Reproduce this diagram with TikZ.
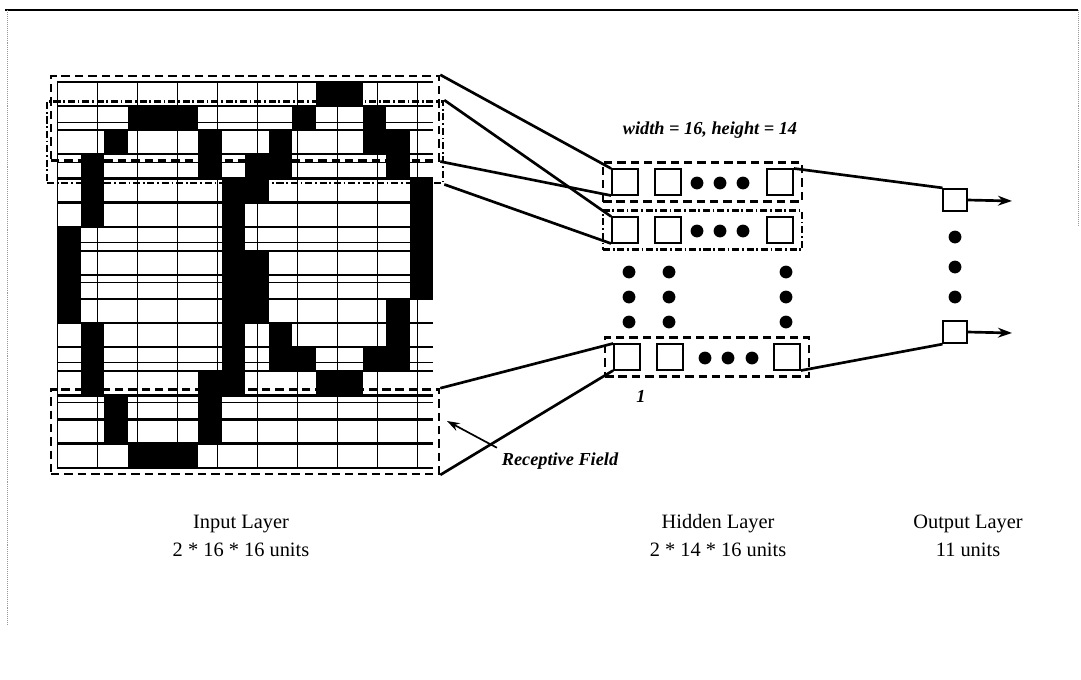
\documentclass[tikz,border=0pt]{standalone}
\usepackage{fontspec}
\setmainfont{Liberation Serif}
\usetikzlibrary{arrows.meta,fit,positioning}

\begin{document}
\begin{tikzpicture}[x=0.025cm,y=-0.025cm,
  unit/.style={draw,line width=1.3pt,minimum width=0.65cm,minimum height=0.63cm,inner sep=0pt},
  outunit/.style={draw,line width=1.3pt,minimum width=0.58cm,minimum height=0.56cm,inner sep=0pt},
  fielda/.style={draw,line width=1.7pt,dash pattern=on 6pt off 3.5pt,inner sep=0.15cm},
  fieldb/.style={draw,line width=1.7pt,dash pattern=on 5pt off 2pt on 1.2pt off 2pt,inner xsep=0.25cm,inner ysep=0.12cm},
  wire/.style={line width=1.9pt},
  dot/.style={circle,fill,inner sep=0pt,minimum size=0.32cm},
  lbl/.style={font=\fontsize{14.5}{17}\selectfont},
  note/.style={font=\fontsize{13}{15}\selectfont\bfseries\itshape}]
\useasboundingbox (0,0) rectangle (1081,679);
% the frame, only the top is printed well
\draw[line width=1.6pt] (5,10) -- (1078,10);
\draw[black!40,densely dotted] (7,10) -- (7,625);
\draw[black!40,densely dotted] (1078,10) -- (1078,225);
% input layer, 16 x 16 cells
\begin{scope}[shift={(57,82)},x=0.5875cm,y=-0.6025cm]
\foreach \r/\cs in {0/{11,12},1/{3,4,5,10,13},2/{2,6,9,13,14},3/{1,6,8,9,14},
    4/{1,7,8,15},5/{1,7,15},6/{0,7,15},7/{0,7,8,15},8/{0,7,8,15},9/{0,7,8,14},
    10/{1,7,9,14},11/{1,7,9,10,13,14},12/{1,6,7,11,12},13/{2,6},14/{2,6},15/{3,4,5}}
  \foreach \c in \cs \fill (\c,\r) rectangle ++(1,1);
\draw[line width=0.6pt] (0,0) grid (16,16);
\foreach \r in {0,...,16} \draw[line width=1.6pt] (0,\r) -- (16,\r);
\node[fielda,fit={(0,0) (16,3)}] (fa) {};    % receptive field 1
\node[fieldb,fit={(0,1) (16,4)}] (fb) {};    % receptive field 2
\node[fielda,fit={(0,13) (16,16)}] (fc) {};  % last receptive field
\end{scope}
% hidden layer
\node[unit] (h11) at (625,182) {};
\node[unit] (h12) at (668,182) {};
\node[unit] (h1n) at (780,182) {};
\foreach \x in {697,720,743} \node[dot] at (\x,183) {};
\node[unit] (h21) at (625,230) {};
\node[unit] (h22) at (668,230) {};
\node[unit] (h2n) at (780,230) {};
\foreach \x in {697,720,743} \node[dot] at (\x,231) {};
\node[unit] (h31) at (627,357) {};
\node[unit] (h32) at (670,357) {};
\node[unit] (h3n) at (787,357) {};
\foreach \x in {705,728,752} \node[dot] at (\x,358) {};
\foreach \x in {629,669,786} \foreach \y in {272,297,322} \node[dot] at (\x,\y) {};
\node[fielda,inner xsep=0.2cm,fit=(h11)(h1n)] (hrow1) {};
\node[fieldb,inner xsep=0.2cm,inner ysep=0.15cm,fit=(h21)(h2n)] (hrow2) {};
\node[fielda,inner xsep=0.2cm,fit=(h31)(h3n)] (hrow3) {};
\node[note] (size) at (710,130) {width = 16, height = 14};
\node[note] (stride) at (641,396) {1};
% output layer
\node[outunit] (o1) at (955,200) {};
\node[outunit] (o2) at (955,332) {};
\foreach \y in {237,267,297} \node[dot] at (955,\y) {};
\coordinate (o1out) at (1012,201);
\coordinate (o2out) at (1012,333);
\draw[wire,-{Stealth[length=10pt,width=7pt]}] (o1.east) -- (o1out);
\draw[wire,-{Stealth[length=10pt,width=7pt]}] (o2.east) -- (o2out);
% connections
\draw[wire] (fa.north east) -- (h11.north west);
\draw[wire] (fa.south east) -- (h11.south west);
\draw[wire] (fb.north east) -- (h21.north west);
\draw[wire] (fb.south east) -- (h21.south west);
\draw[wire] (fc.north east) -- (h31.north west);
\draw[wire] (fc.south east) -- (h31.south west);
\draw[wire] (h1n.north east) -- (o1.north west);
\draw[wire] (h3n.south east) -- (o2.south west);
% receptive field label
\node[note] (rf) at (560,461) {Receptive Field};
\coordinate (rftip) at (447,421);
\draw[line width=1.2pt,-{Stealth[length=9pt,width=6pt]}] (rf.north west) -- (rftip);
% layer names
\node[lbl] (inl) at (241,524) {Input Layer};
\node[lbl,below=0pt of inl] (inu) {2 * 16 * 16 units};
\node[lbl] (hidl) at (718,524) {Hidden Layer};
\node[lbl,below=0pt of hidl] (hidu) {2 * 14 * 16 units};
\node[lbl] (outl) at (968,524) {Output Layer};
\node[lbl,below=0pt of outl] (outu) {11 units};
\end{tikzpicture}
\end{document}
